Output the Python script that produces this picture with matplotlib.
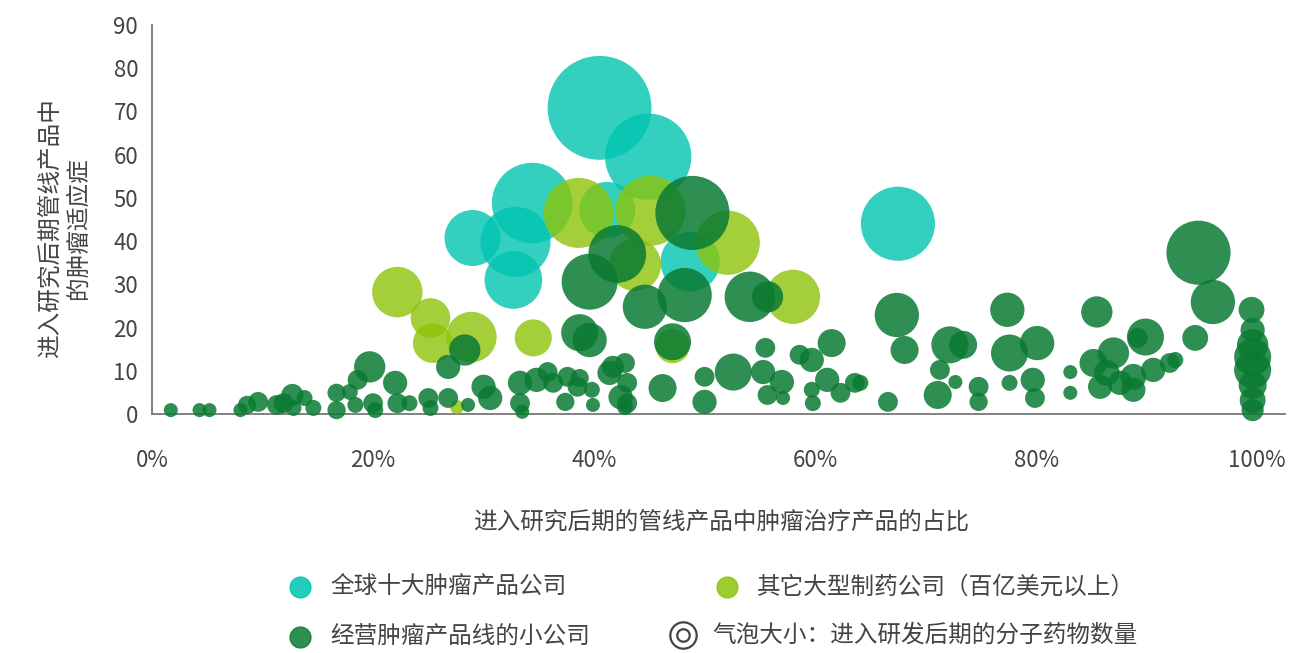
import numpy as np
import matplotlib.pyplot as plt
from matplotlib.lines import Line2D

plt.rcParams['font.family'] = ['Noto Sans CJK SC', 'DejaVu Sans']

# Top-10 oncology companies: (share %, oncology indications, late-stage molecules)
top_x = [40.5, 44.9, 34.4, 29.0, 32.9, 32.7, 67.5, 48.7, 41.2]
top_y = [70.8, 59.5, 48.8, 40.7, 39.8, 31.0, 44.0, 35.2, 47.2]
top_n = [55, 38, 33, 16, 25, 17, 28, 18, 16]

# Other big pharma (> $10bn)
big_x = [22.2, 25.2, 25.4, 28.9, 34.5, 38.6, 45.1, 43.7, 52.1, 58.0, 47.1, 27.6]
big_y = [28.2, 22.2, 16.4, 17.8, 17.6, 46.5, 47.0, 34.5, 39.6, 27.1, 15.7, 1.6]
big_n = [13, 8, 8, 13, 7, 25, 25, 14, 21, 15, 6, 1]

# Small companies with an oncology pipeline
small_x = [48.9, 42.1, 39.6, 44.6, 48.2, 54.1, 55.7, 47.1, 38.7, 39.6, 28.3, 26.8,
           67.4, 68.1, 64.1, 66.6, 72.2, 73.4, 71.3, 72.7, 71.1, 74.8, 74.8,
           77.4, 77.6, 80.1, 77.6, 79.7, 79.9, 85.5, 83.1, 83.1, 85.2, 85.8,
           87.0, 86.4, 87.6, 88.8, 88.8, 89.9, 89.2, 90.6, 92.1, 92.6,
           94.7, 96.0, 94.4, 99.5,
           99.6, 99.6, 99.6, 99.6, 99.6, 99.6, 99.6,
           42.8, 43.0, 43.0, 46.2, 50.0, 50.0, 52.6, 55.5, 55.3, 57.0, 55.7, 57.1,
           58.6, 59.7, 61.5, 61.1, 62.3, 63.6, 59.7, 59.8,
           1.7, 4.3, 5.2, 8.0, 8.6, 9.6, 11.3, 11.9, 12.7, 12.8, 13.8, 14.6,
           16.7, 16.7, 17.9, 18.6, 18.4, 19.7, 20.0, 20.2,
           22.0, 22.2, 23.3, 25.0, 25.2, 26.8, 28.6, 30.0, 30.6, 33.3, 33.3, 33.5,
           34.8, 35.8, 36.3, 37.6, 37.4, 38.5, 38.7, 39.8, 39.9, 41.4, 41.7, 42.4, 42.8]
small_y = [46.5, 37.0, 30.6, 24.8, 27.5, 27.1, 27.1, 16.7, 18.8, 17.1, 14.8, 10.9,
           22.9, 14.8, 7.2, 2.8, 16.0, 16.0, 10.2, 7.4, 4.4, 6.3, 2.8,
           24.1, 14.1, 16.4, 7.2, 7.9, 3.7, 23.6, 9.7, 4.9, 11.8, 6.3,
           14.1, 9.5, 7.2, 8.6, 5.6, 17.8, 17.6, 10.2, 11.8, 12.5,
           37.3, 25.9, 17.6, 24.1,
           19.4, 16.0, 13.2, 10.2, 6.7, 3.2, 0.9,
           11.8, 7.2, 2.5, 6.0, 8.6, 2.8, 9.7, 15.3, 9.7, 7.4, 4.4, 3.7,
           13.7, 12.5, 16.4, 7.9, 4.9, 7.2, 5.6, 2.5,
           0.9, 0.9, 0.9, 0.9, 2.1, 2.8, 2.1, 2.5, 4.4, 1.4, 3.7, 1.4,
           4.9, 0.9, 5.1, 7.9, 2.1, 10.9, 2.5, 0.9,
           7.2, 2.5, 2.5, 3.7, 1.4, 3.7, 2.1, 6.3, 3.7, 7.2, 2.5, 0.5,
           7.9, 9.7, 7.2, 8.6, 2.8, 6.3, 8.3, 5.6, 2.1, 9.5, 10.9, 3.9, 1.6]
small_n = [28, 17, 16, 10, 15, 13, 5, 7, 7, 6, 5, 3,
           10, 4, 1.3, 2, 7, 4, 2, 1, 4, 2, 1.7,
           6, 7, 6, 1.3, 3, 2, 5, 1, 1, 4, 3,
           5, 3.4, 3, 3.4, 3, 7, 2, 3, 2, 1.3,
           21, 10, 3.4, 3.4,
           3, 5, 7, 7, 4, 3.4, 2.5,
           2, 2, 2, 4, 2, 3, 7, 2, 3, 3, 2, 1,
           2, 3, 4, 3, 2, 2, 1.3, 1.3,
           1, 1, 1, 1, 1.7, 2, 2, 2, 2.5, 1.3, 1.3, 1.3,
           1.7, 1.7, 1.3, 2, 1.3, 5, 2, 1.3,
           3, 2, 1.3, 2, 1.3, 2, 1, 3, 3, 3, 2, 1,
           3, 2, 2, 2, 1.7, 2, 1.7, 1.3, 1, 3, 2.5, 3, 1.3]

x_ticks = [0, 20, 40, 60, 80, 100]
y_ticks = [0, 10, 20, 30, 40, 50, 60, 70, 80, 90]

col_top = '#00C4B0'
col_big = '#8DC40A'
col_small = '#0A7A32'
txt = '#444444'

dpi = 100
r0 = 7.0  # bubble radius in pixels for one molecule


def sizes(n):
    return (2 * r0 * np.sqrt(np.asarray(n, float)) * 72 / dpi) ** 2


fig = plt.figure(figsize=(13.14, 6.53), dpi=dpi)
ax = fig.add_axes([0.1157, 0.366, 0.862, 0.596])

ax.scatter(top_x, top_y, s=sizes(top_n), color=col_top, alpha=0.8, lw=0, clip_on=False, zorder=2)
ax.scatter(big_x, big_y, s=sizes(big_n), color=col_big, alpha=0.8, lw=0, clip_on=False, zorder=3)
ax.scatter(small_x, small_y, s=sizes(small_n), color=col_small, alpha=0.85, lw=0, clip_on=False, zorder=4)

ax.set_xlim(0, 102.5)
ax.set_ylim(0, 90)
ax.set_xticks(x_ticks)
ax.set_xticklabels([f'{v}%' for v in x_ticks])
ax.set_yticks(y_ticks)
ax.tick_params(axis='both', length=0, labelsize=16, labelcolor=txt)
ax.tick_params(axis='x', pad=25)
ax.tick_params(axis='y', pad=10)
for side in ['top', 'right']:
    ax.spines[side].set_visible(False)
for side in ['left', 'bottom']:
    ax.spines[side].set_color('#777777')
    ax.spines[side].set_linewidth(1.3)

fig.text(0.049, 0.651, '进入研究后期管线产品中\n的肿瘤适应症', rotation=90, ha='center', va='center',
         fontsize=17, color=txt, linespacing=1.3)
fig.text(0.549, 0.200, '进入研究后期的管线产品中肿瘤治疗产品的占比', ha='center', va='center',
         fontsize=17, color=txt)

# legend
legend_items = [
    (300, 587, col_top, '全球十大肿瘤产品公司'),
    (727, 587, col_big, '其它大型制药公司（百亿美元以上）'),
    (300, 637, col_small, '经营肿瘤产品线的小公司'),
]
W, H = 1314, 653
for px, py, c, label in legend_items:
    fig.add_artist(Line2D([px / W], [1 - py / H], marker='o', markersize=15, color=c,
                          alpha=0.85, lw=0, transform=fig.transFigure))
    fig.text((px + 30) / W, 1 - py / H, label, ha='left', va='center', fontsize=17, color=txt)

cx, cy = 683 / W, 1 - 635 / H
fig.add_artist(Line2D([cx], [cy], marker='o', markersize=19, markerfacecolor='none',
                      markeredgecolor=txt, markeredgewidth=1.6, lw=0, transform=fig.transFigure))
fig.add_artist(Line2D([cx], [cy], marker='o', markersize=9, markerfacecolor='none',
                      markeredgecolor=txt, markeredgewidth=1.6, lw=0, transform=fig.transFigure))
fig.text(712 / W, cy, '气泡大小：进入研发后期的分子药物数量', ha='left', va='center', fontsize=17, color=txt)

fig.savefig('out.png', dpi=dpi)
